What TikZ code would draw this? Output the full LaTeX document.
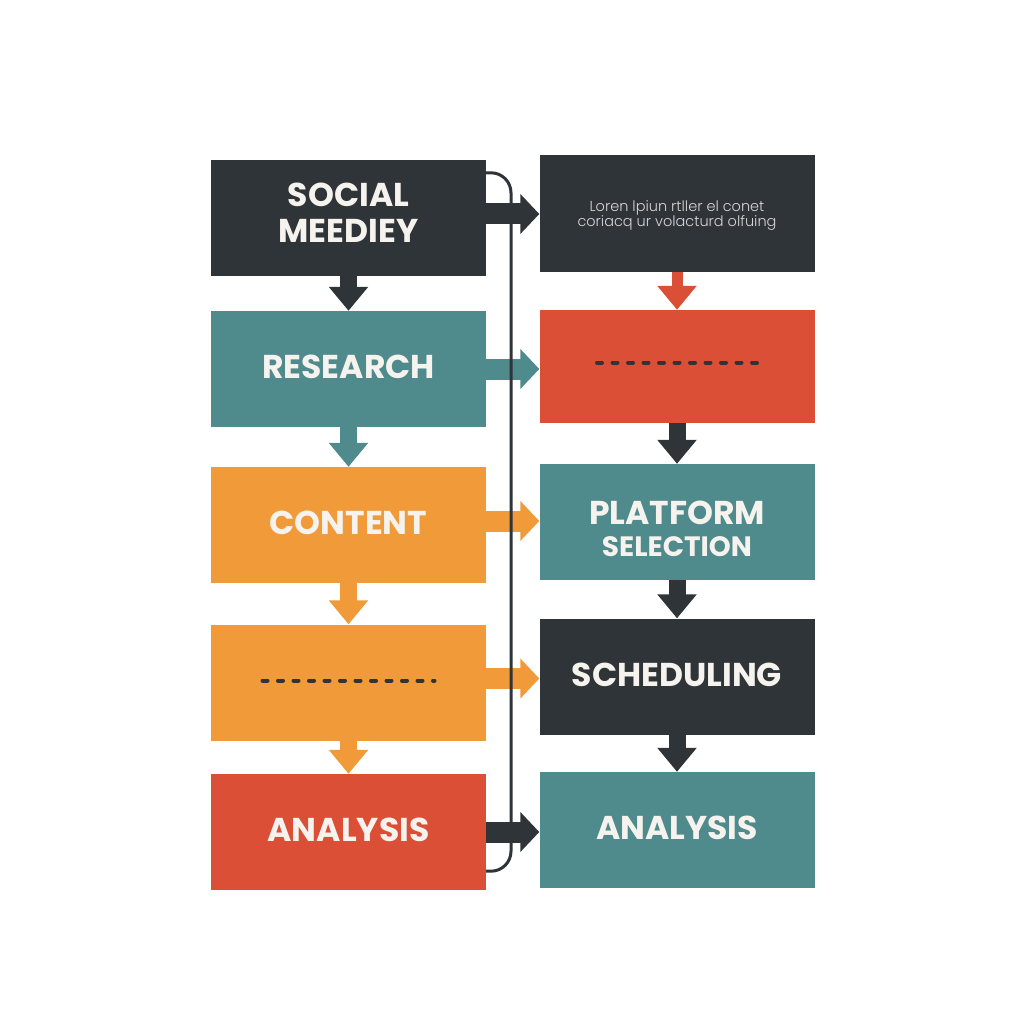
\documentclass[tikz,border=0pt]{standalone}
\usepackage{fontspec}
\setmainfont{Poppins}
\newfontfamily\thinfont{Poppins Light}
\usetikzlibrary{arrows.meta}
\definecolor{slate}{HTML}{2E3437}
\definecolor{teal}{HTML}{4F8A8C}
\definecolor{amber}{HTML}{F09A3A}
\definecolor{brick}{HTML}{DC4F37}
\definecolor{paper}{HTML}{F6F3EE}
\tikzset{
  stage/.style={rectangle, fill=#1, minimum width=275pt, minimum height=116pt,
    inner sep=0pt, text=paper, align=center, text depth=4pt,
    font=\fontsize{33}{36}\selectfont\bfseries},
  tag/.style={inner sep=0pt, text=paper, align=center,
    font=\fontsize{33}{36}\selectfont\bfseries},
  flow/.style={draw=#1, line width=17pt, -{Triangle[length=24pt,width=38pt]}},
  link/.style={draw=#1, line width=21pt, -{Triangle[length=19pt,width=39pt]}},
  rail/.style={draw=slate, line width=3pt, rounded corners=20pt},
  dotrow/.style={draw=slate, line width=4pt, line cap=round, dash pattern=on 5pt off 10.5pt},
}
\begin{document}
\begin{tikzpicture}[x=1pt, y=-1pt]
  \useasboundingbox (0,0) rectangle (1024,1024);

  % left column
  \node [stage=slate, label={[tag, yshift=5pt]center:SOCIAL\\MEEDIEY}] (social) at (348.5,218) {};
  \node [stage=teal] (research) at (348.5,369) {RESEARCH};
  \node [stage=amber] (content) at (348.5,525) {CONTENT};
  \node [stage=amber] (blank) at (348.5,682.5) {};
  \node [stage=brick] (analysis) at (348.5,832) {ANALYSIS};

  % right column
  \node [stage=slate, text depth=0pt, font=\thinfont\fontsize{14.5}{14.5}\selectfont, text=black!16] (lorem) at (677,213.5)
    {Loren lpiun rtller el conet\\coriacq ur volacturd olfuing};
  \node [stage=brick, minimum height=113pt] (gap) at (677,366.5) {};
  \node [stage=teal, label={[tag, yshift=-6.5pt]center:PLATFORM\\[-4pt]{\fontsize{28}{30}\selectfont SELECTION}}] (platform) at (677,522) {};
  \node [stage=slate] (sched) at (677,676.5) {SCHEDULING};
  \node [stage=teal] (review) at (677,830) {ANALYSIS};

  \draw [dotrow] ([xshift=-86pt,yshift=2pt]blank.center) -- ([xshift=86pt,yshift=2pt]blank.center);
  \draw [dotrow] ([xshift=-80pt,yshift=4pt]gap.center) -- ([xshift=80pt,yshift=4pt]gap.center);

  % downward steps
  \draw [flow=slate] (social) -- (research);
  \draw [flow=teal] (research) -- (content);
  \draw [flow=amber] (content) -- (blank);
  \draw [flow=amber] (blank) -- (analysis);
  \draw [flow=brick, line width=11pt] (lorem) -- (gap);
  \draw [flow=slate] (gap) -- (platform);
  \draw [flow=slate] (platform) -- (sched);
  \draw [flow=slate] (sched) -- (review);

  % across
  \draw [link=slate] ([yshift=4pt]social.east) -- ([yshift=4pt]social.east -| lorem.west);
  \draw [link=teal] (research.east) -- (research.east -| gap.west);
  \draw [link=amber] ([yshift=4pt]content.east) -- ([yshift=4pt]content.east -| platform.west);
  \draw [link=amber] ([yshift=4pt]blank.east) -- ([yshift=4pt]blank.east -| sched.west);
  \draw [link=slate] (analysis.east) -- (analysis.east -| review.west);

  % side rail
  \coordinate (railmid) at (511,520);
  \draw [rail] ([yshift=-13pt]social.north east) -| (railmid) |- ([yshift=19pt]analysis.south east);
\end{tikzpicture}
\end{document}
